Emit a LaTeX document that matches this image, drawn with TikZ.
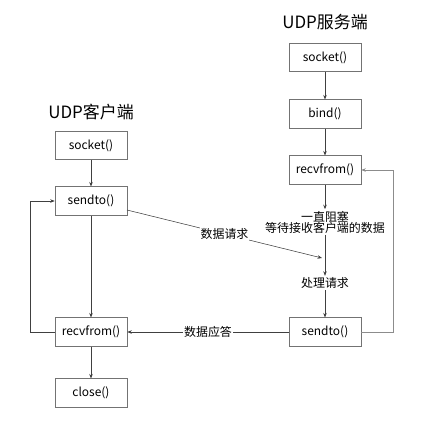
\documentclass[tikz,border=0pt]{standalone}
\usepackage{fontspec}
\setmainfont{Noto Sans CJK SC}
\usetikzlibrary{arrows.meta}
\begin{document}
\begin{tikzpicture}[x=1bp,y=-1bp,
  box/.style={draw=black!55,line width=0.6pt,minimum width=72bp,minimum height=28.5bp,inner sep=0pt,font=\fontsize{12}{14}\selectfont},
  lab/.style={font=\fontsize{12}{14}\selectfont,inner sep=1.5pt,align=center},
  ttl/.style={font=\fontsize{17}{20}\selectfont,inner sep=0pt},
  conn/.style={draw=black!75,line width=0.55pt,-{Stealth[length=4.5bp,width=3.5bp]}},
  lbg/.style={fill=white,inner sep=1pt,font=\fontsize{12}{14}\selectfont}]
\useasboundingbox (0,0) rectangle (427,429);
% titles
\node[ttl] (st) at (325,22) {UDP服务端};
\node[ttl] (ct) at (91,112) {UDP客户端};
% server
\node[box] (ssock) at (325,57.5) {socket()};
\node[box] (sbind) at (325,114) {bind()};
\node[box] (srecv) at (325,170) {recvfrom()};
\node[lab] (sblock) at (325,222) {一直阻塞\\[-3pt]等待接收客户端的数据};
\node[lab] (sproc) at (325,283) {处理请求};
\node[box] (ssend) at (325,332) {sendto()};
% client
\node[box] (csock) at (91,145.5) {socket()};
\node[box] (csend) at (91,201) {sendto()};
\node[box] (crecv) at (91,332) {recvfrom()};
\node[box] (cclose) at (91,393) {close()};
% server arrows
\draw[conn] (ssock) -- (sbind);
\draw[conn] (sbind) -- (srecv);
\draw[conn] (srecv) -- (sblock);
\draw[conn] (sblock) -- (sproc);
\draw[conn] (sproc) -- (ssend);
\draw[conn,draw=black!45] (ssend.east) -- (393,332) -- (393,170) -- (srecv.east);
% client arrows
\draw[conn] (csock) -- (csend);
\draw[conn] (csend) -- (crecv);
\draw[conn] (crecv) -- (cclose);
\draw[conn] (crecv.west) -- (30,332) -- (30,201) -- (csend.west);
% messages
\coordinate (reqend) at (322,258);
\draw[conn] (127,210) -- node[lbg,pos=0.5] (reql) {数据请求} (reqend);
\draw[conn] (ssend.west) -- node[lbg,pos=0.5] (repl) {数据应答} (crecv.east);
\end{tikzpicture}
\end{document}
